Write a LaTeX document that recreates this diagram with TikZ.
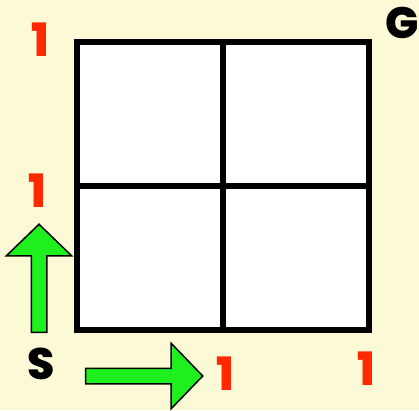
\documentclass[tikz,border=0pt]{standalone}
\usepackage{fontspec}
\setmainfont{Poppins}[BoldFont={* ExtraBold}]
\usepackage{tikz}
\usepackage{xcolor}
\usetikzlibrary{shapes.arrows}

\definecolor{bgyellow}{RGB}{252,250,214}
\definecolor{labelred}{RGB}{255,40,0}
\definecolor{arrowgreen}{RGB}{30,240,30}

\tikzset{
  cell/.style={draw, line width=6pt, fill=white, inner sep=0pt, minimum width=146pt, minimum height=144pt},
  count/.style={text=labelred, font=\fontsize{46}{46}\selectfont\bfseries, inner sep=0pt},
  corner/.style={text=black, font=\fontsize{44}{44}\selectfont\bfseries, inner sep=0pt},
  move/.style={single arrow, draw=black, line width=1.5pt, fill=arrowgreen, inner sep=7pt,
    single arrow head extend=25pt, single arrow tip angle=92}
}

\begin{document}
\begin{tikzpicture}[x=1pt, y=-1pt]
        \fill[bgyellow] (0,0) rectangle (419,410);
        \useasboundingbox (0,0) rectangle (419,410);

        \node (c11) at (150,114) [cell] {};
        \node (c12) at (296,114) [cell] {};
        \node (c21) at (150,258) [cell] {};
        \node (c22) at (296,258) [cell] {};

        \node (one1) at ( 40, 40) [count] {1};
        \node (one2) at ( 37,191) [count] {1};
        \node (one3) at (225,374) [count] {1};
        \node (one4) at (366,369) [count] {1};

        \node (start) at ( 41,364) [corner] {S};
        \node (goal)  at (402, 23) [corner] {G};

        \node (up)    at ( 39,282) [move, rotate=90, minimum height=108pt] {};
        \node (right) at (140.5,376) [move, minimum height=117pt] {};
    \end{tikzpicture}
\end{document}
